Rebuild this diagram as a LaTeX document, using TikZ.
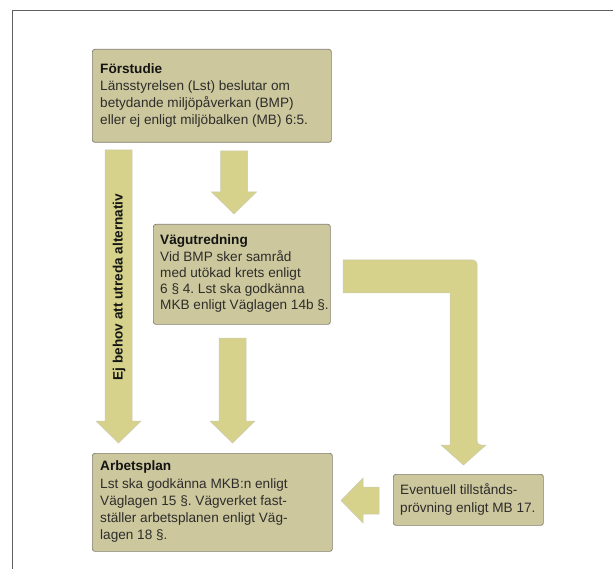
\documentclass[tikz,border=0pt]{standalone}
\usepackage{fontspec}
\setmainfont{Liberation Sans}
\usetikzlibrary{calc}
\frenchspacing
\definecolor{boxfill}{RGB}{205,199,158}
\definecolor{boxline}{RGB}{128,126,110}
\definecolor{arrowfill}{RGB}{214,210,140}
\definecolor{arrowline}{RGB}{205,203,178}
\definecolor{txtcol}{RGB}{45,45,42}
\definecolor{titlecol}{RGB}{20,20,18}
\definecolor{framecol}{RGB}{95,95,95}
\newcommand\blockdown[2]{%
  \path[blockarrow] let \p1=(#1), \p2=(#2) in
    (\x1-13.5pt,\y1) -- (\x1+13.5pt,\y1) -- (\x1+13.5pt,\y2+22pt) --
    (\x1+22.5pt,\y2+22pt) -- (\x2,\y2) -- (\x1-22.5pt,\y2+22pt) --
    (\x1-13.5pt,\y2+22pt) -- cycle;}
\begin{document}
\begin{tikzpicture}[x=1pt,y=-1pt,
  boxnode/.style={draw=boxline, fill=boxfill, rounded corners=2.5pt, line width=0.7pt,
    anchor=north west, inner sep=0pt},
  boxtext/.style={anchor=west, align=left, inner sep=0pt,
    font=\fontsize{13.6}{17.2}\selectfont, text=txtcol},
  blockarrow/.style={fill=arrowfill, draw=arrowline, line width=0.5pt},
  vlabel/.style={rotate=90, font=\fontsize{13.6}{17}\selectfont\bfseries, text=titlecol, inner sep=0pt}
]
\useasboundingbox (0,0) rectangle (613,569);
\fill[white] (0,0) rectangle (613,569);
% frame
\coordinate (fr1) at (613,10);
\coordinate (fr2) at (12,10);
\coordinate (fr3) at (12,569);
\draw[framecol, line width=0.9pt] (fr1) -- (fr2) -- (fr3);

% boxes
\node[boxnode, minimum width=239pt, minimum height=93pt] (f) at (92,49) {};
\node[boxtext] (ft) at ([xshift=8pt,yshift=0.5pt]f.west)
  {\textcolor{titlecol}{\textbf{Förstudie}}\\Länsstyrelsen (Lst) beslutar om\\betydande miljöpåverkan (BMP)\\eller ej enligt miljöbalken (MB) 6:5.};
\node[boxnode, minimum width=177pt, minimum height=100pt] (v) at (153,224) {};
\node[boxtext, font=\fontsize{13.6}{16.3}\selectfont] (vt) at ([xshift=7pt,yshift=0.5pt]v.west)
  {\textcolor{titlecol}{\textbf{Vägutredning}}\\Vid BMP sker samråd\\med utökad krets enligt\\6 § 4. Lst ska godkänna\\MKB enligt Väglagen 14b §.};
\node[boxnode, minimum width=240pt, minimum height=98pt] (a) at (92,453) {};
\node[boxtext] (at) at ([xshift=8pt,yshift=0.5pt]a.west)
  {\textcolor{titlecol}{\textbf{Arbetsplan}}\\Lst ska godkänna MKB:n enligt\\Väglagen 15 §. Vägverket fast-\\ställer arbetsplanen enligt Väg-\\lagen 18 §.};
\node[boxnode, minimum width=150pt, minimum height=51pt] (e) at (393,474) {};
\node[boxtext] (et) at ([xshift=7pt,yshift=0.5pt]e.west)
  {Eventuell tillstånds-\\prövning enligt MB 17.};

% straight down arrows
\coordinate (a1s) at (118.5,150);
\coordinate (a1e) at (118.5,443);
\coordinate (a2s) at (234,151);
\coordinate (a2e) at (234,214);
\coordinate (a3s) at (232.5,338);
\coordinate (a3e) at (232.5,443);
\blockdown{a1s}{a1e}
\blockdown{a2s}{a2e}
\blockdown{a3s}{a3e}

% bent arrow from Vägutredning to tillståndsprövning
\coordinate (b0) at (343,260);
\coordinate (b1) at (477,260);
\coordinate (b2) at (477,445);
\coordinate (b3) at (486,445);
\coordinate (btip) at (463.5,465);
\coordinate (b5) at (441,445);
\coordinate (b6) at (450,445);
\coordinate (b7) at (450,293);
\coordinate (b8) at (343,293);
\path[blockarrow] (b0) {[rounded corners=4pt] -- (b1) -- (b2)} -- (b3) -- (btip) -- (b5) -- (b6) -- (b7) -- (b8) -- cycle;

% left arrow from tillståndsprövning to Arbetsplan
\coordinate (c0) at (379,487);
\coordinate (c1) at (363,487);
\coordinate (c2) at (363,478);
\coordinate (ctip) at (341,500.5);
\coordinate (c4) at (363,523);
\coordinate (c5) at (363,514);
\coordinate (c6) at (379,514);
\path[blockarrow] (c0) -- (c1) -- (c2) -- (ctip) -- (c4) -- (c5) -- (c6) -- cycle;

% vertical label
\node[vlabel] (lab) at (119,287) {Ej behov att utreda alternativ};
\end{tikzpicture}
\end{document}
